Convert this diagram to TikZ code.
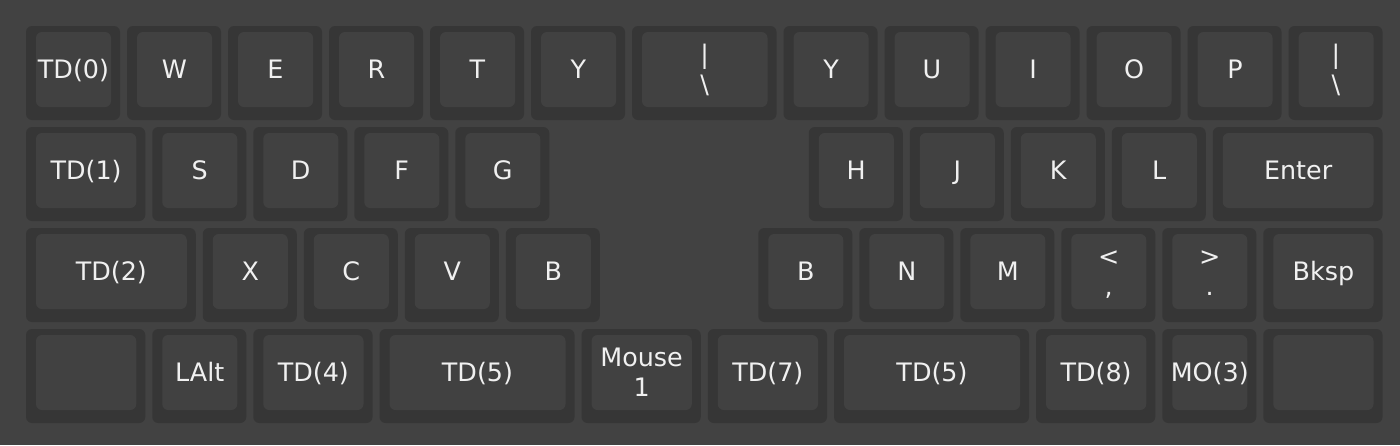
\documentclass[tikz,border=0pt]{standalone}
\usepackage{fontspec}
\setmainfont{DejaVu Sans}
\definecolor{bgc}{HTML}{424242}
\definecolor{outc}{HTML}{363636}
\definecolor{inc}{HTML}{414141}
\definecolor{txc}{HTML}{F0F0F0}
\tikzset{
  keyouter/.style={fill=outc,rounded corners=6pt},
  keyinner/.style={fill=inc,rounded corners=6pt},
  keylabel/.style={inner sep=0pt,anchor=base,text=txc,font=\fontsize{25.4}{30}\selectfont}
}
% #1 name, #2 x (units), #3 row, #4 width (units), #5 label
\newcommand\kc[5]{%
  \pgfmathsetmacro\kx{26+#2*101}%
  \pgfmathsetmacro\ky{26+#3*101}%
  \pgfmathsetmacro\kw{#4*101-7}%
  \fill[keyouter] (\kx,\ky) rectangle ++(\kw,94);
  \fill[keyinner] (\kx+10,\ky+6) rectangle ++(\kw-19,75);
  \node[keylabel] (#1) at (\kx+10+\kw/2-9.5,\ky+52.75) {#5};
}
% two-line label
\newcommand\kcc[6]{%
  \pgfmathsetmacro\kx{26+#2*101}%
  \pgfmathsetmacro\ky{26+#3*101}%
  \pgfmathsetmacro\kw{#4*101-7}%
  \fill[keyouter] (\kx,\ky) rectangle ++(\kw,94);
  \fill[keyinner] (\kx+10,\ky+6) rectangle ++(\kw-19,75);
  \node[keylabel] (#1) at (\kx+10+\kw/2-9.5,\ky+37.75) {#5};
  \node[keylabel] (#1b) at (\kx+10+\kw/2-9.5,\ky+67.75) {#6};
}
\begin{document}
\begin{tikzpicture}[x=1pt,y=-1pt]
\fill[bgc] (0,0) rectangle (1400,445);
\useasboundingbox (0,0) rectangle (1400,445);
% row 0
\kc{td0}{0}{0}{1}{TD(0)}
\kc{w}{1}{0}{1}{W}
\kc{e}{2}{0}{1}{E}
\kc{r}{3}{0}{1}{R}
\kc{t}{4}{0}{1}{T}
\kc{y}{5}{0}{1}{Y}
\kcc{pipea}{6}{0}{1.5}{\textbar}{\textbackslash}
\kc{yy}{7.5}{0}{1}{Y}
\kc{u}{8.5}{0}{1}{U}
\kc{i}{9.5}{0}{1}{I}
\kc{o}{10.5}{0}{1}{O}
\kc{p}{11.5}{0}{1}{P}
\kcc{pipeb}{12.5}{0}{1}{\textbar}{\textbackslash}
% row 1
\kc{td1}{0}{1}{1.25}{TD(1)}
\kc{s}{1.25}{1}{1}{S}
\kc{d}{2.25}{1}{1}{D}
\kc{f}{3.25}{1}{1}{F}
\kc{g}{4.25}{1}{1}{G}
\kc{h}{7.75}{1}{1}{H}
\kc{j}{8.75}{1}{1}{J}
\kc{k}{9.75}{1}{1}{K}
\kc{l}{10.75}{1}{1}{L}
\kc{enter}{11.75}{1}{1.75}{Enter}
% row 2
\kc{td2}{0}{2}{1.75}{TD(2)}
\kc{x}{1.75}{2}{1}{X}
\kc{c}{2.75}{2}{1}{C}
\kc{v}{3.75}{2}{1}{V}
\kc{b}{4.75}{2}{1}{B}
\kc{bb}{7.25}{2}{1}{B}
\kc{n}{8.25}{2}{1}{N}
\kc{m}{9.25}{2}{1}{M}
\kcc{comma}{10.25}{2}{1}{\textless}{,}
\kcc{dot}{11.25}{2}{1}{\textgreater}{.}
\kc{bksp}{12.25}{2}{1.25}{Bksp}
% row 3
\kc{blanka}{0}{3}{1.25}{}
\kc{lalt}{1.25}{3}{1}{LAlt}
\kc{td4}{2.25}{3}{1.25}{TD(4)}
\kc{td5a}{3.5}{3}{2}{TD(5)}
\kcc{mouse}{5.5}{3}{1.25}{Mouse}{1}
\kc{td7}{6.75}{3}{1.25}{TD(7)}
\kc{td5b}{8}{3}{2}{TD(5)}
\kc{td8}{10}{3}{1.25}{TD(8)}
\kc{mo3}{11.25}{3}{1}{MO(3)}
\kc{blankb}{12.25}{3}{1.25}{}
\end{tikzpicture}
\end{document}
